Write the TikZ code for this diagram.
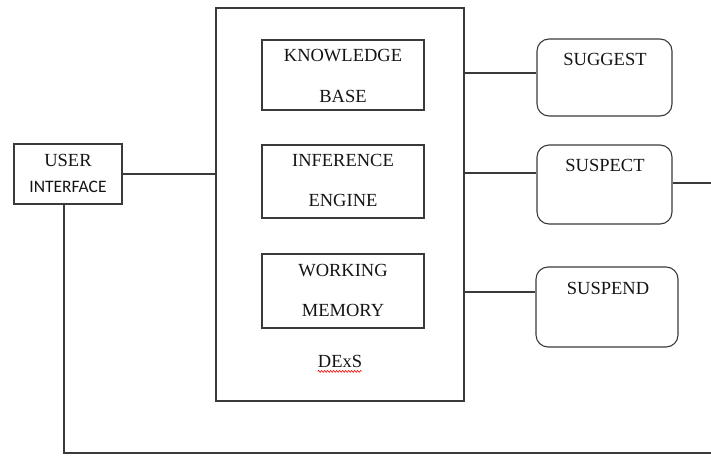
\documentclass[tikz,border=0pt]{standalone}
\usepackage{fontspec}
\setmainfont{Liberation Serif}
\newfontfamily\calib{Carlito}
\usetikzlibrary{decorations.pathmorphing}
\definecolor{linec}{HTML}{3A3A3A}
\definecolor{txtc}{HTML}{141414}
\begin{document}
\begin{tikzpicture}[x=1pt,y=-1pt,
  box/.style={draw=linec, line width=1.1pt, inner sep=0pt, fill=none},
  rbox/.style={box, rounded corners=12pt},
  lbl/.style={anchor=base, inner sep=0pt, text=txtc, font=\fontsize{18.5}{21}\selectfont},
  conn/.style={draw=linec, line width=1.1pt}]
\useasboundingbox (0,0) rectangle (711,455);
% boxes
\node[box, minimum width=108pt, minimum height=60pt] (ui) at (68,174) {};
\node[box, minimum width=248pt, minimum height=393pt] (dexs) at (340,204.5) {};
\node[box, minimum width=162pt, minimum height=70pt] (kb) at (343,75) {};
\node[box, minimum width=162pt, minimum height=73pt] (ie) at (343,181.5) {};
\node[box, minimum width=162pt, minimum height=74pt] (wm) at (343,291) {};
\node[rbox, minimum width=135pt, minimum height=77pt] (sg) at (604.5,77.5) {};
\node[rbox, minimum width=135pt, minimum height=79pt] (sc) at (604.5,184.5) {};
\node[rbox, minimum width=142pt, minimum height=80pt] (sd) at (607,307) {};
% labels
\node[lbl] (t1) at (68,166) {USER};
\node[lbl, font=\calib\fontsize{17.5}{20}\selectfont] (t2) at (68,192) {INTERFACE};
\node[lbl] (t3) at (343,61) {KNOWLEDGE};
\node[lbl] (t4) at (343,102) {BASE};
\node[lbl] (t5) at (343,166) {INFERENCE};
\node[lbl] (t6) at (343,206) {ENGINE};
\node[lbl] (t7) at (343,276) {WORKING};
\node[lbl] (t8) at (343,316) {MEMORY};
\node[lbl] (t9) at (340,367) {DExS};
\node[lbl] (t10) at (605,65) {SUGGEST};
\node[lbl] (t11) at (605,171) {SUSPECT};
\node[lbl] (t12) at (608,294) {SUSPEND};
\draw[red, line width=0.6pt, decorate, decoration={snake, amplitude=0.9pt, segment length=3pt}] (t9.south west) ++(0,4) -- ++(44,0);
% connectors
\coordinate (rend1) at (711,183);
\coordinate (bl) at (64,453);
\coordinate (br) at (711,453);
\draw[conn] (ui.east) -- (ui.east -| dexs.west);
\draw[conn] (dexs.east |- 0,73) -- (sg.west |- 0,73);
\draw[conn] (dexs.east |- 0,173) -- (sc.west |- 0,173);
\draw[conn] (dexs.east |- 0,292) -- (sd.west |- 0,292);
\draw[conn] (sc.east |- rend1) -- (rend1);
\draw[conn] (ui.south -| bl) -- (bl) -- (br);
\end{tikzpicture}
\end{document}
